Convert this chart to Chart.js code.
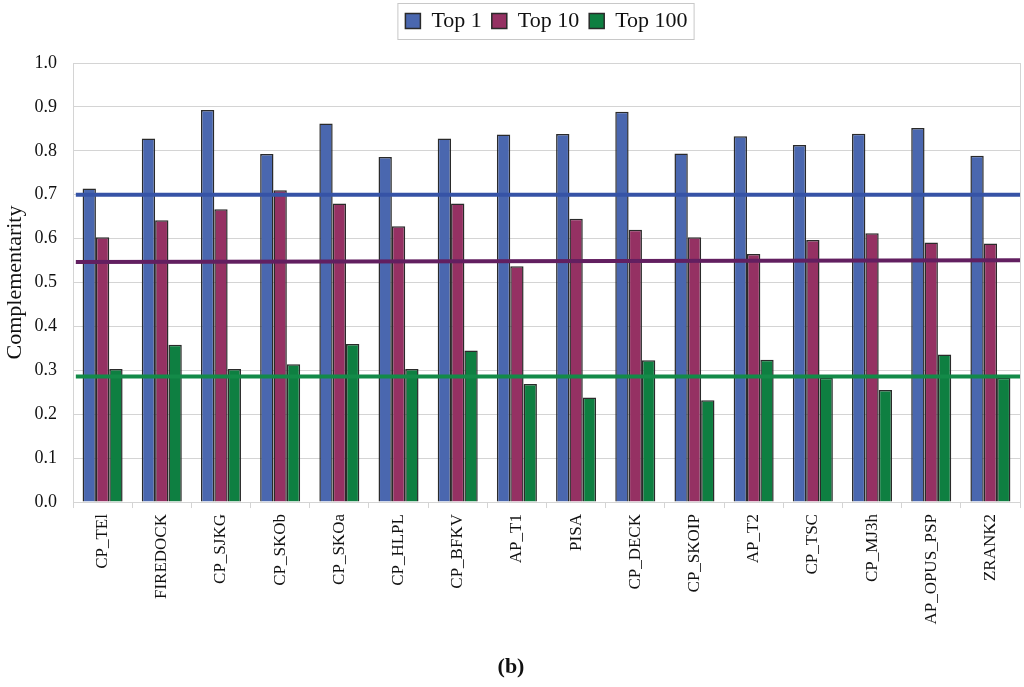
<!DOCTYPE html>
<html>
<head>
<meta charset="utf-8">
<script src="https://cdn.jsdelivr.net/npm/chart.js@4"></script>
<style>
  body { margin: 0; background: #fff; }
  #wrap { width: 1024px; height: 687px; }
</style>
</head>
<body>
<div id="wrap"><canvas id="chart"></canvas></div>
<script>
/* ---------- DATA ---------- */
const methods = ["CP_TEl", "FIREDOCK", "CP_SJKG", "CP_SKOb", "CP_SKOa", "CP_HLPL", "CP_BFKV", "AP_T1",
                 "PISA", "CP_DECK", "CP_SKOIP", "AP_T2", "CP_TSC", "CP_MJ3h", "AP_OPUS_PSP", "ZRANK2"];
const top1   = [0.714, 0.828, 0.893, 0.793, 0.862, 0.786, 0.828, 0.837, 0.838, 0.889, 0.794, 0.833, 0.813, 0.839, 0.852, 0.789];
const top10  = [0.603, 0.642, 0.667, 0.710, 0.680, 0.628, 0.680, 0.537, 0.645, 0.620, 0.603, 0.565, 0.597, 0.612, 0.591, 0.589];
const top100 = [0.303, 0.358, 0.303, 0.314, 0.360, 0.303, 0.345, 0.269, 0.238, 0.323, 0.232, 0.324, 0.283, 0.255, 0.336, 0.283];

// reference lines: [left end, right end]
const refTop1   = [0.700, 0.700];
const refTop10  = [0.547, 0.551];
const refTop100 = [0.286, 0.286];
const refSpan   = [0.003, 1];   // position along the hidden 0..1 axis

const yTicks = [0, 0.1, 0.2, 0.3, 0.4, 0.5, 0.6, 0.7, 0.8, 0.9, 1.0];

/* ---------- STYLE ---------- */
const serif = "'Liberation Serif', 'Times New Roman', serif";
const gridGray = "#d4d4d4";
const refLines = [
    { data: refTop1, color: "#3653a6" },
    { data: refTop10, color: "#621f60" },
    { data: refTop100, color: "#138a48" }
];

function barSet(label, data, color) {
    return {
        label, data,
        backgroundColor: color, borderColor: "#2a2a2a", borderWidth: 1.5,
        categoryPercentage: 0.676, barPercentage: 1.0
    };
}

/* ---------- REF LINES + FRAME + LEGEND BOX ---------- */
const extrasPlugin = {
    id: "extras",
    beforeInit(chart) {
        // leave room under the legend
        const fit = chart.legend.fit;
        chart.legend.fit = function () {
            fit.call(this);
            this.height += 21;
        };
    },
    afterDatasetsDraw(chart) {
        const ctx = chart.ctx, xs = chart.scales.xl, ys = chart.scales.y;
        ctx.save();
        ctx.lineWidth = 4;
        refLines.forEach(r => {
            ctx.strokeStyle = r.color;
            ctx.beginPath();
            ctx.moveTo(xs.getPixelForValue(refSpan[0]), ys.getPixelForValue(r.data[0]));
            ctx.lineTo(xs.getPixelForValue(refSpan[1]), ys.getPixelForValue(r.data[1]));
            ctx.stroke();
        });
        ctx.restore();
    },
    afterDraw(chart) {
        const ctx = chart.ctx, a = chart.chartArea;
        ctx.save();
        ctx.strokeStyle = gridGray;
        ctx.lineWidth = 1;
        ctx.beginPath();
        ctx.moveTo(a.right + 0.5, a.top);
        ctx.lineTo(a.right + 0.5, a.bottom);
        ctx.stroke();
        const hb = chart.legend.legendHitBoxes;
        if (hb && hb.length) {
            const l = Math.min(...hb.map(h => h.left)) - 8;
            const r = Math.max(...hb.map(h => h.left + h.width)) + 6;
            const t = Math.min(...hb.map(h => h.top)) - 7;
            const b = Math.max(...hb.map(h => h.top + h.height)) + 7;
            ctx.strokeStyle = "#c8c8c8";
            ctx.strokeRect(l + 0.5, t + 0.5, r - l, b - t);
        }
        ctx.restore();
    }
};

new Chart(document.getElementById("chart"), {
    type: "bar",
    data: {
        labels: methods,
        datasets: [
            barSet("Top 1", top1, "#4a67af"),
            barSet("Top 10", top10, "#953163"),
            barSet("Top 100", top100, "#0e7f41")
        ]
    },
    options: {
        responsive: true,
        maintainAspectRatio: false,
        animation: false,
        layout: { padding: { top: 0, right: 4, left: 2, bottom: 2 } },
        plugins: {
            legend: {
                position: "top",
                fullSize: false,
                labels: {
                    font: { family: serif, size: 22 },
                    color: "#111",
                    boxWidth: 15, boxHeight: 15, padding: 10
                }
            },
            title: {
                display: true, position: "bottom", text: "(b)",
                color: "#111",
                font: { family: serif, size: 22, weight: "bold" },
                padding: { top: 24, bottom: 4 }
            },
            tooltip: { enabled: false }
        },
        scales: {
            x: {
                type: "category",
                offset: true,
                grid: { offset: true, drawOnChartArea: false, color: gridGray, tickLength: 6 },
                border: { color: gridGray },
                ticks: {
                    font: { family: serif, size: 17 }, color: "#111",
                    minRotation: 90, maxRotation: 90, padding: 6, autoSkip: false
                }
            },
            xl: {
                type: "linear", position: "bottom", display: false,
                min: 0, max: 1, offset: false
            },
            y: {
                min: 0, max: 1,
                afterBuildTicks: s => { s.ticks = yTicks.map(v => ({ value: v })); },
                afterFit: s => { s.width = 71; },
                grid: { color: gridGray, drawTicks: false },
                border: { color: gridGray },
                ticks: {
                    font: { family: serif, size: 18 }, color: "#111", padding: 16,
                    callback: v => Number(v).toFixed(1)
                },
                title: {
                    display: true, text: "Complementarity",
                    font: { family: serif, size: 22 }, color: "#111",
                    padding: { top: 0, bottom: 4 }
                }
            }
        }
    },
    plugins: [extrasPlugin]
});
</script>
</body>
</html>
